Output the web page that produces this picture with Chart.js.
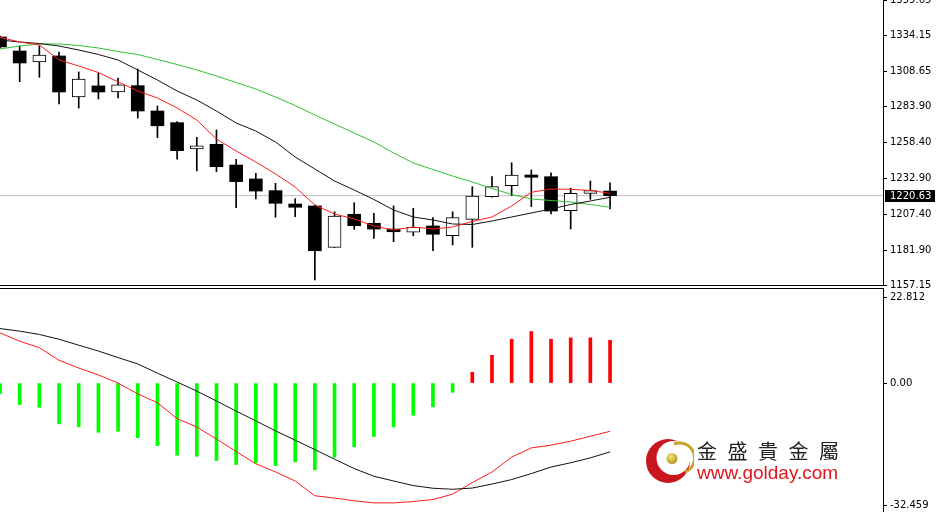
<!DOCTYPE html>
<html><head><meta charset="utf-8">
<script src="https://cdn.jsdelivr.net/npm/chart.js@4.4.0/dist/chart.umd.min.js"></script>
<style>
html,body{margin:0;padding:0;background:#fff;width:936px;height:512px;overflow:hidden;}
#wrap{position:relative;width:936px;height:512px;background:#fff;}
#top{position:absolute;left:0;top:0;}
#bot{position:absolute;left:0;top:289px;}
.sep{position:absolute;left:0;width:884px;height:1px;background:#000;}
#logo{position:absolute;left:644px;top:436px;width:200px;height:52px;}
#logo .cn{position:absolute;left:53px;top:5px;font-family:"Noto Sans CJK TC","Noto Sans CJK SC",sans-serif;font-size:20px;line-height:20px;letter-spacing:10.5px;color:#222;white-space:nowrap;}
#logo .en{position:absolute;left:53px;top:27px;font-family:"Liberation Sans",Arial,sans-serif;font-size:19px;line-height:19px;color:#e0141e;white-space:nowrap;}
</style></head>
<body><div id="wrap">
<div class="sep" style="top:285px"></div>
<div class="sep" style="top:288px"></div>
<canvas id="bot" width="936" height="223"></canvas>
<canvas id="top" width="936" height="293"></canvas>
<div id="logo">
<svg width="50" height="52" viewBox="0 0 50 52" style="position:absolute;left:0;top:0">
<defs><radialGradient id="gb" cx="40%" cy="35%" r="70%"><stop offset="0" stop-color="#f6e27a"/><stop offset="1" stop-color="#b8901c"/></radialGradient></defs>
<circle cx="24" cy="25" r="22" fill="#c8161d"/>
<circle cx="29.5" cy="22" r="17" fill="#fff"/>
<path d="M30 8 A15 15 0 0 1 41 36" fill="none" stroke="#c9a227" stroke-width="3"/>
<circle cx="28" cy="22.5" r="5.5" fill="url(#gb)"/>
</svg>
<div class="cn">金盛貴金屬</div>
<div class="en">www.golday.com</div>
</div>
</div>
<script>
// ---- data ----
const barIndex = [0,1,2,3,4,5,6,7,8,9,10,11,12,13,14,15,16,17,18,19,20,21,22,23,24,25,26,27,28,29,30,31];
const opens  = [1333.4,1323.4,1315.6,1319.9,1290.7,1298.6,1294.3,1298.8,1280.8,1272.5,1253.8,1257.1,1242.4,1232.5,1224.2,1214.7,1213.3,1183.9,1207.4,1201.0,1196.9,1194.6,1199.1,1192.2,1203.8,1219.9,1227.7,1235.3,1234.1,1209.9,1222.3,1223.9];
const highs  = [1334.1,1327.0,1327.2,1322.7,1308.5,1307.8,1304.2,1310.6,1284.3,1273.2,1262.1,1267.3,1246.5,1236.5,1229.4,1218.5,1214.0,1209.2,1215.6,1208.1,1213.3,1211.7,1205.0,1209.2,1227.0,1234.1,1244.0,1238.9,1236.9,1225.9,1231.0,1229.8];
const lows   = [1325.5,1301.6,1304.7,1285.8,1282.9,1289.3,1290.0,1275.8,1261.8,1246.5,1238.2,1237.6,1212.1,1218.3,1205.3,1205.7,1160.7,1183.9,1196.7,1190.3,1187.9,1192.2,1181.5,1185.6,1183.9,1219.5,1220.6,1212.8,1207.6,1196.9,1218.0,1211.2];
const closes = [1326.3,1314.9,1320.6,1294.3,1303.5,1294.3,1299.3,1280.8,1270.3,1252.6,1256.1,1241.2,1230.6,1223.9,1215.2,1212.4,1181.5,1206.2,1199.3,1196.9,1195.0,1198.2,1193.2,1205.0,1220.4,1227.0,1235.3,1233.7,1209.7,1222.3,1224.2,1220.63];
const maFast = [1333.15,1329.81,1327.68,1317.02,1312.76,1308.14,1301.39,1295.0,1290.02,1282.92,1274.39,1260.89,1252.36,1244.55,1236.02,1226.79,1214.0,1207.6,1204.05,1199.07,1196.23,1198.36,1196.94,1198.36,1202.27,1205.47,1213.28,1223.06,1225.36,1225.15,1224.3,1222.31];
const maMid  = [1331.23,1329.81,1328.74,1326.97,1324.13,1320.93,1317.02,1309.92,1302.81,1295.0,1288.6,1280.78,1272.26,1266.57,1258.76,1248.1,1239.57,1231.04,1224.65,1217.9,1210.45,1205.47,1203.34,1200.5,1200.14,1202.63,1205.47,1208.31,1211.15,1214.35,1216.84,1219.47];
const maSlow = [1324.83,1326.97,1328.39,1328.39,1327.32,1325.55,1323.06,1320.93,1317.37,1313.82,1309.92,1305.65,1301.03,1296.41,1290.73,1284.69,1277.94,1271.55,1265.15,1258.76,1250.94,1243.83,1239.22,1234.6,1230.34,1225.72,1221.46,1218.26,1217.19,1216.13,1214.35,1212.36];
const macdHist   = [-2.79,-5.70,-6.42,-10.82,-11.62,-13.05,-12.79,-14.46,-16.58,-19.15,-19.42,-20.56,-21.62,-21.17,-21.88,-20.90,-23.02,-19.68,-16.92,-14.19,-11.62,-8.54,-6.31,-2.44,2.86,7.37,11.62,13.66,11.62,11.99,11.99,11.35];
const macdMain   = [14.46,13.77,12.89,11.62,10.05,8.49,6.76,5.07,2.63,0.27,-2.12,-4.77,-7.43,-10.03,-12.68,-15.15,-17.64,-20.19,-22.68,-24.72,-25.97,-27.19,-27.9,-28.17,-27.85,-26.79,-25.6,-24.0,-22.28,-21.14,-19.84,-18.25];
const macdSignal = [13.32,11.11,9.39,6.05,3.98,2.15,0.0,-2.86,-5.23,-9.42,-11.67,-14.83,-18.17,-21.41,-23.58,-25.97,-29.89,-30.5,-31.22,-31.78,-31.78,-31.43,-30.9,-29.47,-26.39,-23.61,-19.63,-17.19,-16.47,-15.41,-14.11,-12.79];
const priceTickLabels = ['1157.15','1181.90','1207.40','1232.90','1258.40','1283.90','1308.65','1334.15','1359.65'];
const macdTickLabels  = ['-32.459','0.00','22.812'];

// ---- chart ----
Chart.defaults.font.family = 'DejaVu Sans';
Chart.defaults.font.size = 10;
const X_MAX = 44.87;
const FONT = {family: 'DejaVu Sans', size: 10};

function yAxis(min, max, labels) {
  const vals = labels.map(Number);
  return {
    type: 'linear', position: 'right', min: min, max: max,
    afterBuildTicks: s => { s.ticks = vals.map(v => ({value: v})); },
    afterFit: s => { s.width = 53; s.paddingTop = 0; s.paddingBottom = 0; },
    ticks: {
      callback: v => { const k = vals.indexOf(v); return k >= 0 ? labels[k] : ''; },
      color: '#000', font: FONT, padding: 3, autoSkip: false, maxRotation: 0
    },
    grid: { drawOnChartArea: false, drawTicks: true, tickLength: 4, color: '#000' },
    border: { display: true, color: '#000', width: 1 }
  };
}
const xAxis = { type: 'linear', min: 0, max: X_MAX, display: false, offset: false, grid: { offset: false } };
const baseOpts = {
  responsive: false, animation: false, devicePixelRatio: 1,
  plugins: { legend: { display: false }, tooltip: { enabled: false } },
  events: []
};
const line = (data, color, order) => ({
  type: 'line', data: data, borderColor: color, borderWidth: 1,
  pointRadius: 0, tension: 0, fill: false, order: order
});

const lastClose = closes[closes.length - 1];
const priceTag = {
  id: 'priceTag',
  afterDraw(chart) {
    const y = chart.scales.y, ctx = chart.ctx;
    const py = Math.round(y.getPixelForValue(lastClose));
    ctx.save();
    ctx.fillStyle = '#000';
    ctx.fillRect(y.left + 2, py - 6, chart.width - y.left - 3, 12);
    ctx.fillStyle = '#fff';
    ctx.font = '10px "DejaVu Sans"';
    ctx.textBaseline = 'middle';
    ctx.textAlign = 'left';
    ctx.fillText(lastClose.toFixed(2), y.left + 7, py + 0.5);
    ctx.restore();
  }
};

const whiteIdx = barIndex.filter(i => closes[i] >= opens[i]);
const blackIdx = barIndex.filter(i => closes[i] < opens[i]);

new Chart(document.getElementById('top'), {
  data: {
    datasets: [
      line(barIndex.map(i => ({x: i, y: maFast[i]})), '#ff1a1a', 0),
      line(barIndex.map(i => ({x: i, y: maMid[i]})), '#111', 0),
      line(barIndex.map(i => ({x: i, y: maSlow[i]})), '#2fc42f', 0),
      { type: 'bar', data: whiteIdx.map(i => ({x: i, y: [opens[i], closes[i]]})),
        backgroundColor: '#fff', borderColor: '#000', borderWidth: 1, borderSkipped: false,
        barThickness: 13, grouped: false, order: 2 },
      { type: 'bar', data: blackIdx.map(i => ({x: i, y: [opens[i], closes[i]]})),
        backgroundColor: '#000', borderWidth: 0, barThickness: 13, grouped: false, order: 2 },
      { type: 'bar', data: barIndex.map(i => ({x: i, y: [lows[i], highs[i]]})),
        backgroundColor: '#000', borderWidth: 0, barThickness: 1, grouped: false, order: 3 },
      line([{x: 0, y: lastClose}, {x: X_MAX, y: lastClose}], '#c0c0c0', 4)
    ]
  },
  options: Object.assign({}, baseOpts, {
    layout: { padding: { top: 0, left: 0, right: 0, bottom: 8 } },
    scales: { x: xAxis, y: yAxis(1157.15, 1359.65, priceTickLabels) }
  }),
  plugins: [priceTag]
});

new Chart(document.getElementById('bot'), {
  data: {
    datasets: [
      line(barIndex.map(i => ({x: i, y: macdMain[i]})), '#111', 0),
      line(barIndex.map(i => ({x: i, y: macdSignal[i]})), '#ff1a1a', 0),
      { type: 'bar', data: barIndex.map(i => ({x: i, y: macdHist[i]})),
        backgroundColor: macdHist.map(v => v >= 0 ? '#ff0000' : '#00ff00'),
        borderWidth: 0, barThickness: 3, grouped: false, order: 2 }
    ]
  },
  options: Object.assign({}, baseOpts, {
    layout: { padding: 0 },
    scales: { x: xAxis, y: yAxis(-34.2, 24.95, macdTickLabels) }
  })
});
</script>
</body></html>
